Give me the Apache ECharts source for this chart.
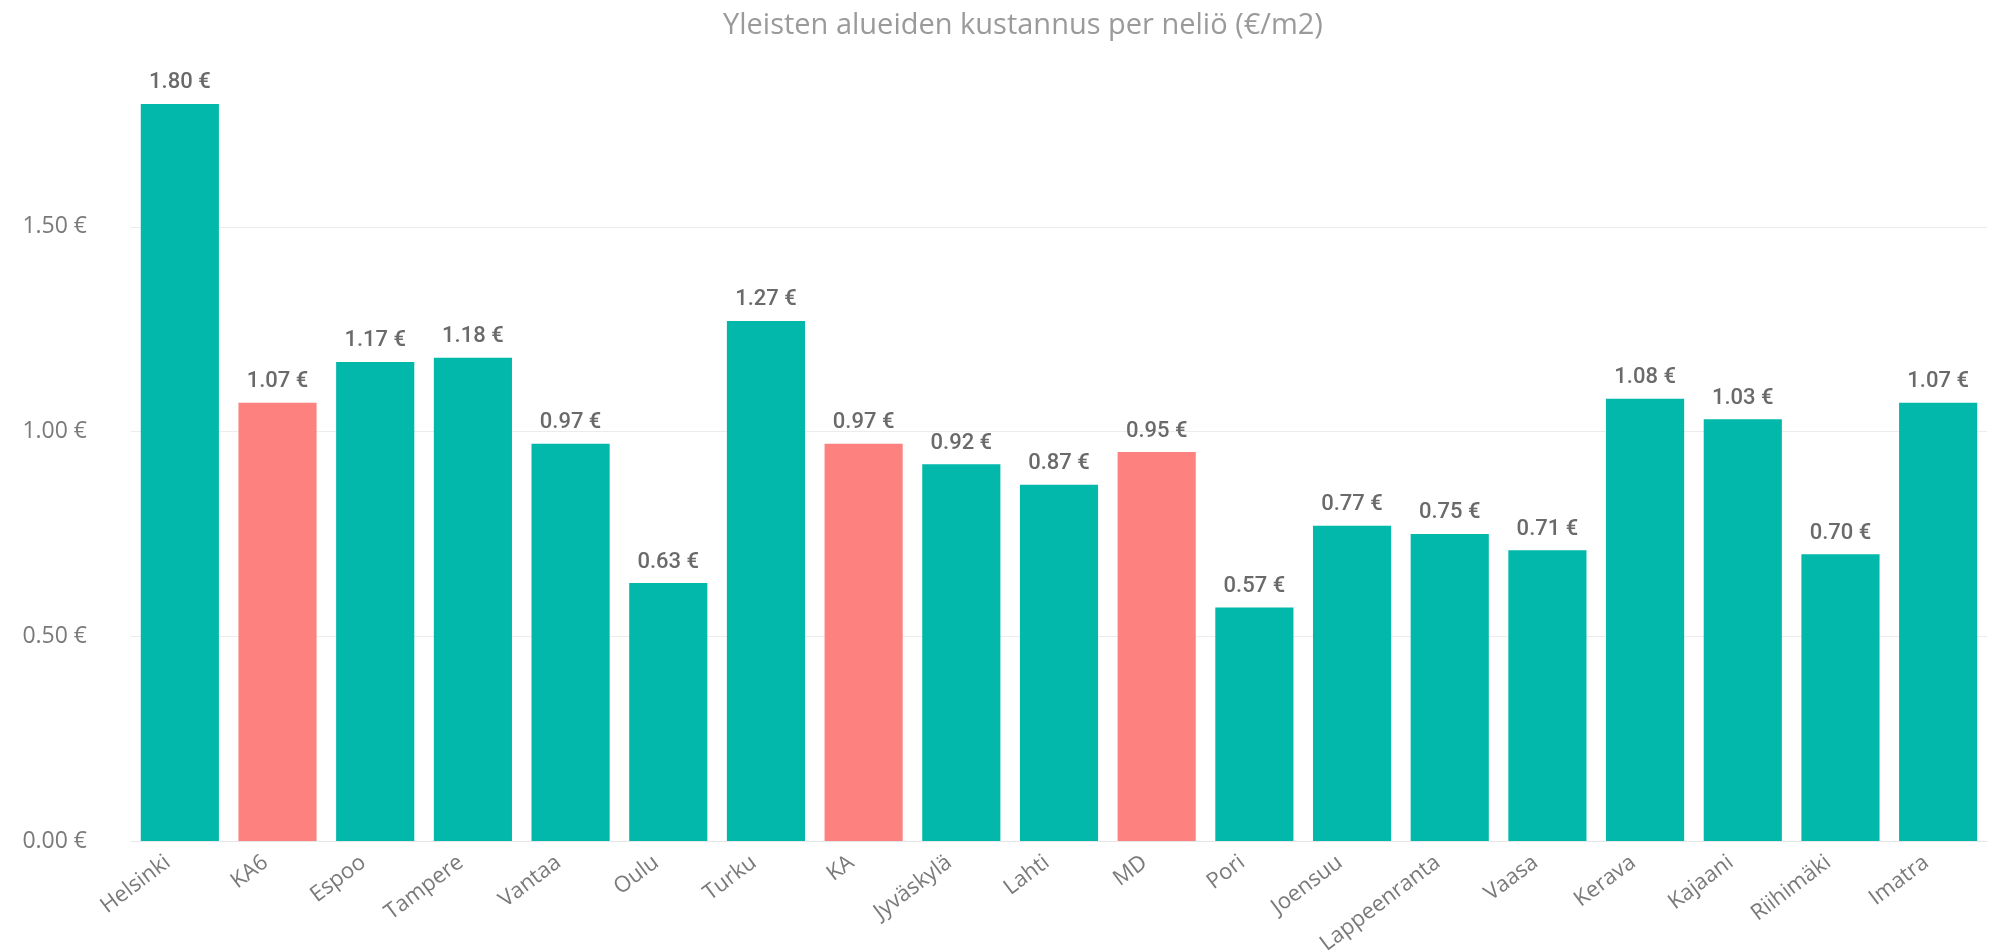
<!DOCTYPE html>
<html>
<head>
<meta charset="utf-8">
<script src="https://cdn.jsdelivr.net/npm/echarts@6/dist/echarts.min.js"></script>
<style>
  html, body { margin: 0; padding: 0; background: #fff; }
  #chart { width: 2008px; height: 952px; }
</style>
</head>
<body>
<div id="chart"></div>
<script>
// kunnat / vertailuryhmät
const categories = ['Helsinki', 'KA6', 'Espoo', 'Tampere', 'Vantaa', 'Oulu', 'Turku', 'KA', 'Jyväskylä',
  'Lahti', 'MD', 'Pori', 'Joensuu', 'Lappeenranta', 'Vaasa', 'Kerava', 'Kajaani', 'Riihimäki', 'Imatra']
// €/m2
const values = [1.80, 1.07, 1.17, 1.18, 0.97, 0.63, 1.27, 0.97, 0.92,
  0.87, 0.95, 0.57, 0.77, 0.75, 0.71, 1.08, 1.03, 0.70, 1.07]
// vertailuryhmät korostettuna
const highlighted = ['KA6', 'KA', 'MD']

const mChart = echarts.init(document.getElementById('chart'))

const option = {
  animation: false,
  title: {
    text: 'Yleisten alueiden kustannus per neliö (€/m2)',
    left: 718,
    top: 6,
    textStyle: {
      fontFamily: 'Open Sans',
      fontWeight: 'normal',
      fontSize: 29,
      color: '#9a9a9a'
    }
  },
  grid: {
    left: 131,
    right: 21,
    top: 63,
    bottom: 111,
    outerBoundsMode: 'none'
  },
  xAxis: {
    type: 'category',
    data: categories,
    axisLine: { lineStyle: { color: '#e6e6e6' } },
    axisTick: { show: false },
    axisLabel: {
      interval: 0,
      rotate: 37,
      margin: 10,
      padding: [0, 15, 0, 0],
      fontFamily: 'Open Sans',
      fontSize: 22,
      color: '#7a7a7a'
    }
  },
  yAxis: {
    type: 'value',
    min: 0,
    max: 1.9,
    interval: 0.5,
    axisLine: { show: false },
    axisTick: { show: false },
    splitLine: {
      showMaxLine: false,
      lineStyle: { color: '#ececec', width: 1 }
    },
    axisLabel: {
      showMaxLabel: false,
      margin: 44,
      fontFamily: 'Open Sans',
      fontSize: 23,
      color: '#7a7a7a',
      formatter: (v) => v.toFixed(2) + ' €'
    }
  },
  series: [
    {
      type: 'bar',
      barCategoryGap: '20%',
      data: values.map((v, i) => ({
        value: v,
        itemStyle: {
          color: highlighted.includes(categories[i]) ? '#FD817E' : '#01B8AA'
        }
      })),
      label: {
        show: true,
        position: 'top',
        distance: 10,
        fontFamily: 'Roboto',
        fontWeight: 500,
        fontSize: 22,
        color: '#6a6a6a',
        formatter: (p) => p.value.toFixed(2) + ' €'
      }
    }
  ]
}

mChart.setOption(option)
</script>
</body>
</html>
